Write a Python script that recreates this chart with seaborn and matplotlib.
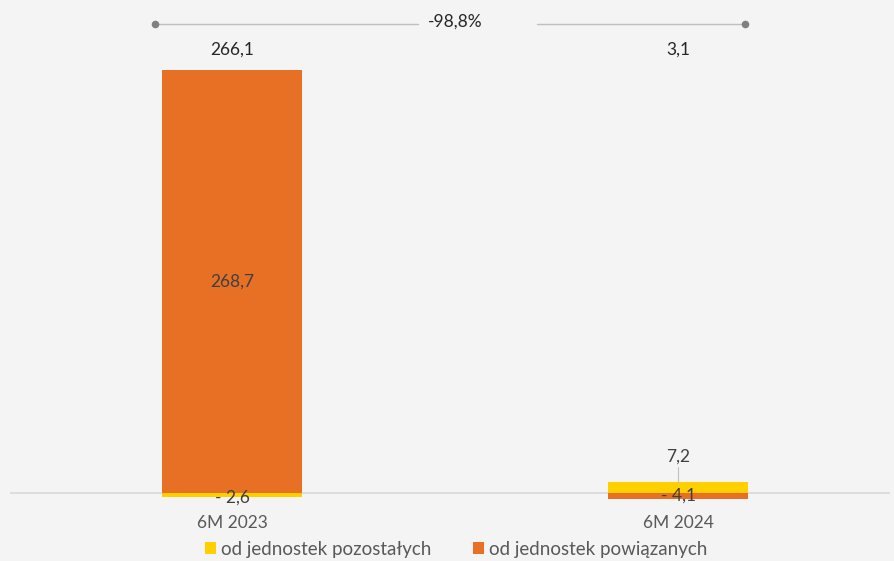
import matplotlib
matplotlib.use("Agg")
import pandas as pd
import matplotlib.pyplot as plt
import seaborn as sns
from matplotlib.patches import Patch

# data
periods = ["6M 2023", "6M 2024"]
pozostalych = [-2.6, 7.2]
powiazanych = [268.7, -4.1]
totals = [266.1, 3.1]
change_label = "-98,8%"
series_names = ["od jednostek pozostałych", "od jednostek powiązanych"]
colors = ["#FFD000", "#E87024"]


def fmt(v):
    s = f"{abs(v):.1f}".replace(".", ",")
    return "- " + s if v < 0 else s


df = pd.DataFrame({
    "okres": periods * 2,
    "wartosc": powiazanych + pozostalych,
    "seria": [series_names[1]] * 2 + [series_names[0]] * 2,
})

sns.set_theme(style="white")
plt.rcParams["font.family"] = ["Lato", "DejaVu Sans"]
bg = "#F4F4F4"
fig = plt.figure(figsize=(8.94, 5.61), dpi=100, facecolor=bg)
ax = fig.add_axes([10 / 894, 1 - 505 / 561, 880 / 894, 505 / 561])
ax.set_facecolor(bg)

sns.barplot(data=df, x="okres", y="wartosc", hue="seria", dodge=False,
            palette={series_names[0]: colors[0], series_names[1]: colors[1]},
            width=0.314, legend=False, ax=ax, saturation=1, linewidth=0)

px = 1.574  # pixels per unit
ax.set_xlim(-0.498, 1.475)
ax.set_ylim(-12 / px, 493 / px)

for s in ax.spines.values():
    s.set_visible(False)
ax.axhline(0, color="#D9D9D9", lw=1.2, zorder=0.5)
ax.set_yticks([])
ax.set_xlabel("")
ax.set_ylabel("")
ax.set_xticks([0, 1])
ax.set_xticklabels(periods, color="#595959", fontsize=12.5)
ax.tick_params(axis="x", which="major", length=0, pad=7)
ax.set_xticks([-0.497, 0.5, 1.474], minor=True)
ax.tick_params(axis="x", which="minor", length=5, color="#D9D9D9", width=1)

lab_col = "#404040"
fs = 12.5
# labels inside / near bars
ax.text(0, powiazanych[0] / 2, fmt(powiazanych[0]), ha="center", va="center",
        color=lab_col, fontsize=fs)
ax.text(0, -2.8, fmt(pozostalych[0]), ha="center", va="center",
        color=lab_col, fontsize=fs)
ax.text(1, 23, fmt(pozostalych[1]), ha="center", va="center",
        color=lab_col, fontsize=fs)
ax.plot([1, 1], [pozostalych[1], 16.5], color="#BFBFBF", lw=0.8)
ax.text(1, -1.8, fmt(powiazanych[1]), ha="center", va="center",
        color=lab_col, fontsize=fs)

# totals
for i, t in enumerate(totals):
    ax.text(i, 443 / px, fmt(t), ha="center", va="center", color="#262626",
            fontsize=fs)

# change bracket
yl = 469 / px
ax.plot([-0.173, 0.417], [yl, yl], color="#BFBFBF", lw=1)
ax.plot([0.684, 1.15], [yl, yl], color="#BFBFBF", lw=1)
ax.scatter([-0.173, 1.15], [yl, yl], s=30, color="#808080", zorder=3,
           linewidths=0)
ax.text(0.5, yl + 1.5, change_label, ha="center", va="center",
        color="#262626", fontsize=fs)

handles = [Patch(facecolor=c, edgecolor="none") for c in colors]
leg = fig.legend(handles, series_names, loc="center",
                 bbox_to_anchor=(0.51, 1 - 549 / 561),
                 ncol=2, frameon=False, fontsize=13.5, handlelength=0.6,
                 handleheight=0.6, handletextpad=0.25, columnspacing=2.2)
for t in leg.get_texts():
    t.set_color("#595959")

fig.savefig("out.png", dpi=100, facecolor=bg)
